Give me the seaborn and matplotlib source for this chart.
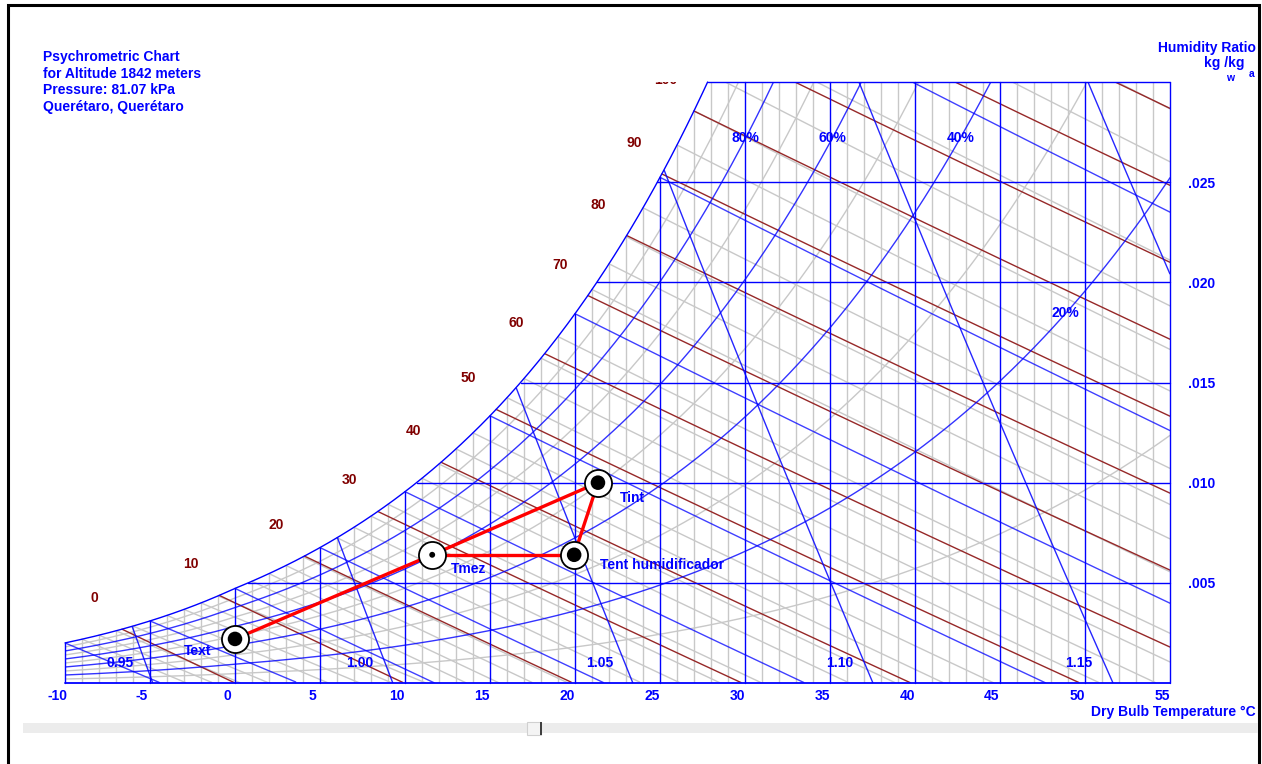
import numpy as np
import pandas as pd
import seaborn as sns
import matplotlib.pyplot as plt
import matplotlib.transforms as mtransforms
from matplotlib.patches import Rectangle

# Chart setup (Querétaro, 1842 m)
pressure_kpa = 81.07
t_min, t_max = -10, 55
w_min, w_max = 0.0, 0.030

header_lines = ["Psychrometric Chart", "for Altitude 1842 meters",
                "Pressure: 81.07 kPa", "Querétaro, Querétaro"]

# State points
point_names = ["Text", "Tmez", "Tint", "Tent humidificador"]
point_tdb = [0.0, 11.6, 21.35, 19.95]
point_w = [0.0022, 0.0064, 0.0100, 0.0064]

# Process lines between the points
process_from = ["Text", "Tmez", "Tmez", "Tent humidificador"]
process_to = ["Tmez", "Tint", "Tent humidificador", "Tint"]

# Chart line families
rh_blue = [20, 40, 60, 80]
rh_grey = [10, 30, 50, 70, 90]
rh_label_values = [80, 60, 40, 20]
enthalpy_labels = [0, 10, 20, 30, 40, 50, 60, 70, 80, 90, 100]
volume_labels = [0.95, 1.00, 1.05, 1.10, 1.15]
x_ticks = list(range(-10, 60, 5))
y_ticks = [0.005, 0.010, 0.015, 0.020, 0.025]
y_tick_labels = [".005", ".010", ".015", ".020", ".025"]

BLUE = "#0000ff"
GREY = "#c8c8c8"
BROWN = "#962828"
LABEL_BROWN = "#800000"
FS = 10


def p_ws(t):
    t = np.asarray(t, dtype=float)
    water = 0.61094 * np.exp(17.625 * t / (t + 243.04))
    ice = 0.61115 * np.exp(22.452 * t / (272.55 + t))
    return np.where(t >= 0, water, ice)


def w_rh(t, phi):
    pw = phi * p_ws(t)
    return 0.622 * pw / (pressure_kpa - pw)


def w_sat(t):
    return w_rh(t, 1.0)


t_grid = np.linspace(-20, 70, 9001)
ws_grid = w_sat(t_grid)
hs_grid = 1.006 * t_grid + ws_grid * (2501 + 1.86 * t_grid)


def t_sat_from_w(w):
    return np.interp(w, ws_grid, t_grid)


def t_sat_from_h(h):
    return np.interp(h, hs_grid, t_grid)


def below_sat(t, w):
    w = np.array(w, dtype=float)
    w[(w > w_sat(t) + 1e-7) | (w < 0)] = np.nan
    return w


def wet_bulb_line(twb):
    t = np.linspace(twb, t_max, 400)
    ws_star = w_sat(twb)
    if twb >= 0:
        w = ((2501 - 2.326 * twb) * ws_star - 1.006 * (t - twb)) / (2501 + 1.86 * t - 4.186 * twb)
    else:
        w = ((2830 - 0.24 * twb) * ws_star - 1.006 * (t - twb)) / (2830 + 1.86 * t - 2.1 * twb)
    return t, below_sat(t, w)


def enthalpy_line(h):
    t = np.linspace(t_sat_from_h(h), t_max, 400)
    w = (h - 1.006 * t) / (2501 + 1.86 * t)
    return t, below_sat(t, w)


def volume_line(v):
    w = np.linspace(0, 0.04, 800)
    t = v * pressure_kpa / (0.287042 * (1 + 1.6078 * w)) - 273.15
    w = below_sat(t, w)
    w[(t < t_min) | (t > t_max)] = np.nan
    return t, w


sns.set_style("white")
plt.rcParams["font.family"] = ["Liberation Sans", "DejaVu Sans"]
plt.rcParams["font.weight"] = "bold"

fig = plt.figure(figsize=(12.62, 7.64), dpi=100)
ax = fig.add_axes([65 / 1262, 1 - 683 / 764, 1105 / 1262, 601 / 764])
ax.set_xlim(t_min, t_max)
ax.set_ylim(w_min, w_max)
for s in ax.spines.values():
    s.set_visible(False)

t_line = np.linspace(t_min, t_max, 1301)
lw = 1.0

# grey family: 1 C dry bulb, 1 C wet bulb, odd RH curves
for t in range(t_min, t_max + 1):
    if t % 5:
        ax.plot([t, t], [0, min(w_sat(t), w_max)], color=GREY, lw=lw, zorder=1)
for twb in range(-10, 46):
    if twb % 5:
        ax.plot(*wet_bulb_line(twb), color=GREY, lw=lw, zorder=1)
for rh in rh_grey:
    ax.plot(t_line, w_rh(t_line, rh / 100), color=GREY, lw=lw, zorder=1)

# enthalpy lines
for h in range(0, 201, 10):
    ax.plot(*enthalpy_line(h), color=BROWN, lw=lw, zorder=2)

# blue family
for t in range(t_min, t_max + 1, 5):
    ax.plot([t, t], [0, min(w_sat(t), w_max)], color=BLUE, lw=lw, zorder=3, clip_on=False)
for w in y_ticks + [w_max]:
    ax.plot([t_sat_from_w(w), t_max], [w, w], color=BLUE, lw=lw, zorder=3, clip_on=False)
ax.plot([t_min, t_max], [0, 0], color=BLUE, lw=1.3, zorder=3, clip_on=False)
for twb in range(-10, 46, 5):
    ax.plot(*wet_bulb_line(twb), color=BLUE, lw=lw, alpha=0.75, zorder=3)
for rh in rh_blue:
    ax.plot(t_line, w_rh(t_line, rh / 100), color=BLUE, lw=lw, alpha=0.8, zorder=3)
for v in [0.95, 1.00, 1.05, 1.10, 1.15, 1.20]:
    ax.plot(*volume_line(v), color=BLUE, lw=lw, alpha=0.85, zorder=3)
t_sat_line = np.linspace(t_min, t_sat_from_w(w_max), 400)
ax.plot(t_sat_line, w_sat(t_sat_line), color=BLUE, lw=lw, zorder=3, clip_on=False)

# labels on the chart
txt = dict(fontweight="bold", fontsize=FS, ha="center", va="center")
for h in enthalpy_labels:
    ts = t_sat_from_h(h)
    ax.annotate(str(h), (ts, w_sat(ts)), xytext=(-28, 31), textcoords="offset pixels",
                color=LABEL_BROWN, clip_on=True, annotation_clip=False, **txt)

rh_label_w = [0.0272, 0.0272, 0.0272, 0.01846]
for rh, w in zip(rh_label_values, rh_label_w):
    pws = w * pressure_kpa / (0.622 + w) / (rh / 100)
    lg = np.log(pws / 0.61094)
    t = 243.04 * lg / (17.625 - lg)
    ax.text(t, w, f"{rh}%", color=BLUE, zorder=6, **txt)

for v in volume_labels:
    t = v * pressure_kpa / (0.287042 * (1 + 1.6078 * 0.001)) - 273.15
    ax.annotate(f"{v:.2f}", (t, 0.001), xytext=(-25, 0), textcoords="offset pixels",
                color=BLUE, zorder=6, **txt)

# process lines and state points
points = pd.DataFrame({"name": point_names, "tdb": point_tdb, "w": point_w}).set_index("name")
for a, b in zip(process_from, process_to):
    seg = points.loc[[a, b]]
    sns.lineplot(x=seg["tdb"].values, y=seg["w"].values, sort=False, color="#ff0000",
                 lw=2.4, ax=ax, zorder=7, legend=False)

pts = points.reset_index()
sns.scatterplot(data=pts, x="tdb", y="w", s=380, color="white", edgecolor="black",
                linewidth=1.3, ax=ax, zorder=8, legend=False)
core_size = {"Text": 110, "Tmez": 18, "Tint": 110, "Tent humidificador": 110}
sns.scatterplot(data=pts, x="tdb", y="w", size="name", sizes=core_size, color="black",
                edgecolor="black", linewidth=0, ax=ax, zorder=9, legend=False)

label_offset = {"Text": (-37, -12, "center"), "Tmez": (36, -14, "center"),
                "Tint": (34, -15, "center"), "Tent humidificador": (26, -10, "left")}
for name, row in points.iterrows():
    dx, dy, ha = label_offset[name]
    ax.annotate(name, (row["tdb"], row["w"]), xytext=(dx, dy), textcoords="offset pixels",
                color=BLUE, fontsize=FS, fontweight="bold", ha=ha, va="center", zorder=10)

# axes ticks
ax.set_xticks(x_ticks)
ax.set_xticklabels([str(t) for t in x_ticks])
ax.yaxis.tick_right()
ax.set_yticks(y_ticks)
ax.set_yticklabels(y_tick_labels)
ax.tick_params(axis="x", length=0, pad=4, labelsize=FS, labelcolor=BLUE)
ax.tick_params(axis="y", length=0, pad=13, labelsize=FS, labelcolor=BLUE)
shift = mtransforms.ScaledTranslation(-0.08, 0, fig.dpi_scale_trans)
for lab in ax.get_xticklabels():
    lab.set_transform(lab.get_transform() + shift)
    lab.set_fontweight("bold")
for lab in ax.get_yticklabels():
    lab.set_fontweight("bold")
ax.set_xlabel("")
ax.set_ylabel("")

# figure texts
for i, line in enumerate(header_lines):
    fig.text(43 / 1262, 1 - (57 + 16.5 * i) / 764, line, color=BLUE, fontsize=FS,
             fontweight="bold", ha="left", va="center")
fig.text(1256 / 1262, 1 - 48 / 764, "Humidity Ratio", color=BLUE, fontsize=FS,
         fontweight="bold", ha="right", va="center")
fig.text(1204 / 1262, 1 - 63 / 764, "kg /kg", color=BLUE, fontsize=FS,
         fontweight="bold", ha="left", va="center")
fig.text(1230 / 1262, 1 - 78 / 764, "w", color=BLUE, fontsize=7.5,
         fontweight="bold", ha="center", va="center")
fig.text(1252 / 1262, 1 - 74 / 764, "a", color=BLUE, fontsize=7.5,
         fontweight="bold", ha="center", va="center")
fig.text(1256 / 1262, 1 - 712 / 764, "Dry Bulb Temperature °C", color=BLUE, fontsize=FS,
         fontweight="bold", ha="right", va="center")

# window frame and scrollbar
fig.add_artist(Rectangle((8 / 1262, -0.1), 1251 / 1262, 1.1 - 5 / 764, transform=fig.transFigure,
                         fill=False, edgecolor="black", lw=2.2, clip_on=False))
fig.add_artist(Rectangle((23 / 1262, 1 - 733 / 764), 1235 / 1262, 10 / 764,
                         transform=fig.transFigure, color="#ececec", lw=0))
fig.add_artist(Rectangle((527 / 1262, 1 - 735 / 764), 14 / 1262, 13 / 764,
                         transform=fig.transFigure, facecolor="#f4f4f4", edgecolor="#d0d0d0", lw=0.8))
fig.add_artist(Rectangle((540 / 1262, 1 - 735 / 764), 1.5 / 1262, 13 / 764,
                         transform=fig.transFigure, color="#404040", lw=0))

fig.savefig("out.png", dpi=100)
